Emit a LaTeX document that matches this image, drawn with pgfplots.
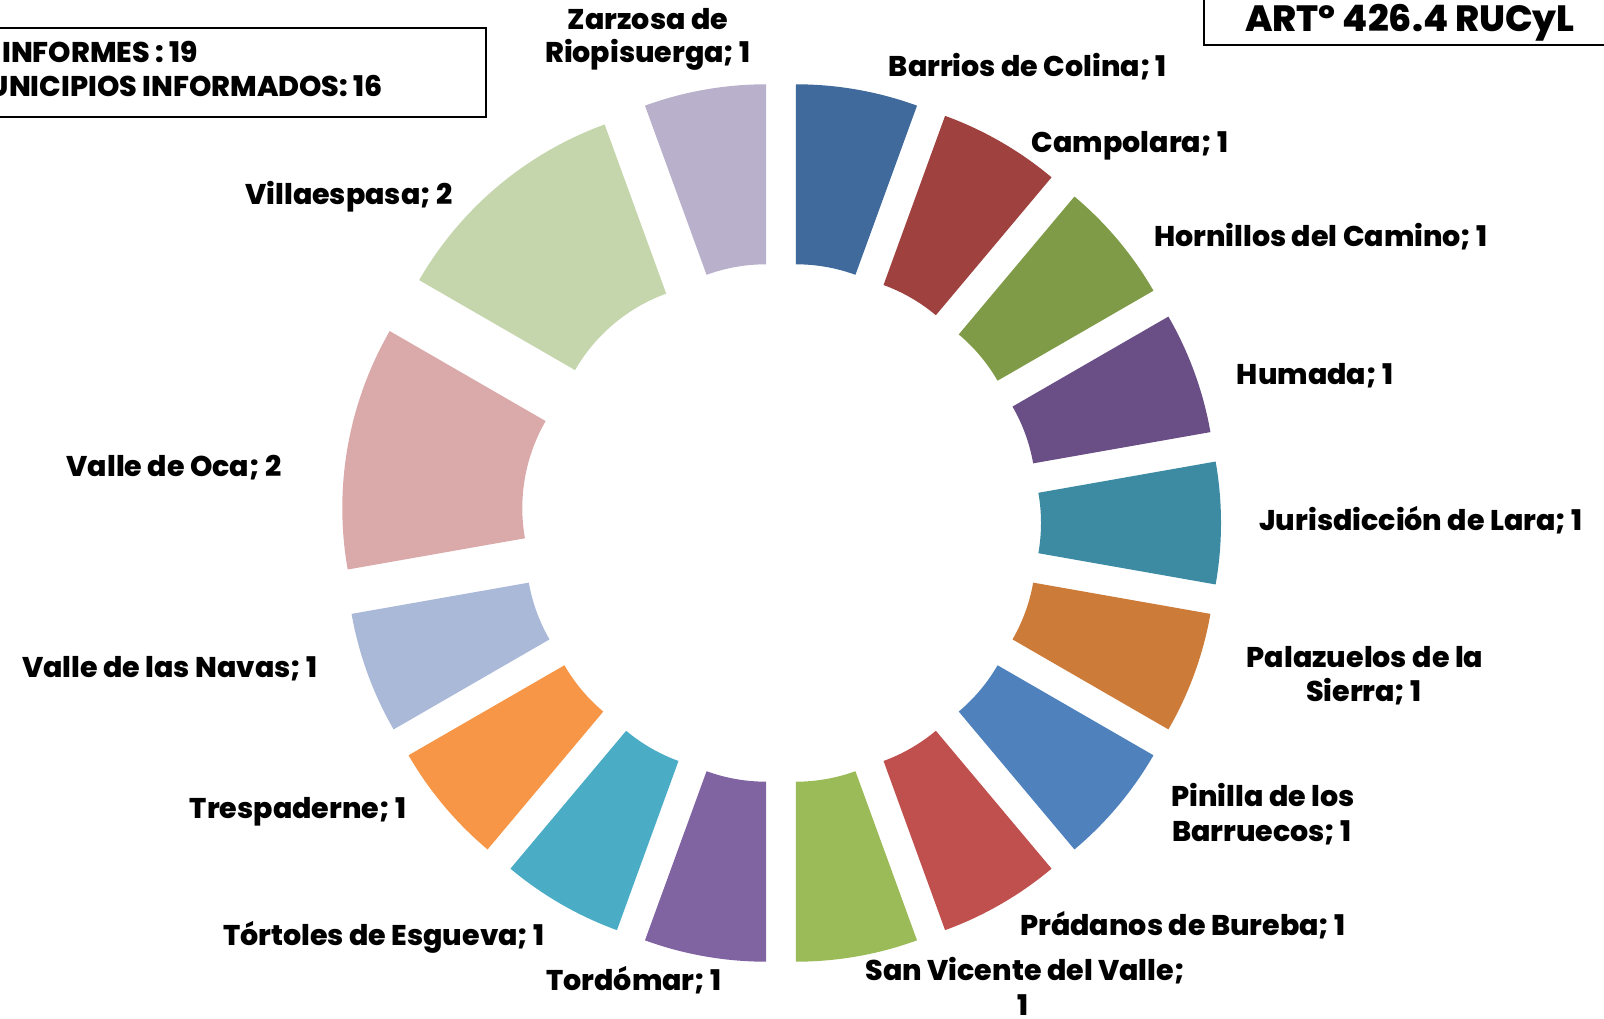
\documentclass[border=0pt]{standalone}
\usepackage{pgfplots}
\pgfplotsset{compat=1.18}
\usepackage{pgfplotstable}
\usepackage{fontspec}
\setmainfont{Poppins}[BoldFont={Poppins ExtraBold}]

% colores de los sectores (orden horario desde arriba)
\definecolor{c1}{HTML}{3F6A9B}
\definecolor{c2}{HTML}{9E413F}
\definecolor{c3}{HTML}{7F9B48}
\definecolor{c4}{HTML}{694F86}
\definecolor{c5}{HTML}{3C8BA3}
\definecolor{c6}{HTML}{CC7B38}
\definecolor{c7}{HTML}{4F81BD}
\definecolor{c8}{HTML}{C0504D}
\definecolor{c9}{HTML}{9BBB59}
\definecolor{c10}{HTML}{8064A2}
\definecolor{c11}{HTML}{4BACC6}
\definecolor{c12}{HTML}{F79646}
\definecolor{c13}{HTML}{AAB9D8}
\definecolor{c14}{HTML}{DAA9A9}
\definecolor{c15}{HTML}{C6D6AC}
\definecolor{c16}{HTML}{B9B0CB}

\pgfplotstableread[col sep=comma]{
municipio,informes
Barrios de Colina,1
Campolara,1
Hornillos del Camino,1
Humada,1
Jurisdicción de Lara,1
Palazuelos de la Sierra,1
Pinilla de los Barruecos,1
Prádanos de Bureba,1
San Vicente del Valle,1
Tordómar,1
Tórtoles de Esgueva,1
Trespaderne,1
Valle de las Navas,1
Valle de Oca,2
Villaespasa,2
Zarzosa de Riopisuerga,1
}\informes

\newcommand\lab{\fontsize{28.5}{33}\selectfont\bfseries}

\begin{document}
\begin{tikzpicture}
% suma total
\def\total{0}
\pgfplotsforeachungrouped \i in {0,...,15}{%
  \pgfplotstablegetelem{\i}{informes}\of\informes
  \pgfmathsetmacro\total{\total+\pgfplotsretval}%
}
\begin{axis}[
    scale only axis,
    width=1604pt, height=1018pt,
    xmin=0, xmax=1604, ymin=0, ymax=1018,
    enlargelimits=false,
    hide axis,
    clip=false,
]
\coordinate (ll) at (axis cs:0,0);
\coordinate (ur) at (axis cs:1604,1018);

% --- anillo con sectores separados ---
\def\acc{0}
\pgfplotsforeachungrouped \i in {0,...,15}{%
  \pgfplotstablegetelem{\i}{informes}\of\informes
  \let\v\pgfplotsretval
  \pgfmathsetmacro\aA{90-360*\acc/\total}%
  \pgfmathsetmacro\aB{90-360*(\acc+\v)/\total}%
  \pgfmathsetmacro\aM{(\aA+\aB)/2}%
  \pgfmathsetmacro\ox{781+86*cos(\aM)}%
  \pgfmathsetmacro\oy{495+86*sin(\aM)}%
  \pgfmathsetmacro\px{\ox+354*cos(\aA)}%
  \pgfmathsetmacro\py{\oy+354*sin(\aA)}%
  \pgfmathsetmacro\qx{\ox+174*cos(\aB)}%
  \pgfmathsetmacro\qy{\oy+174*sin(\aB)}%
  \pgfmathtruncatemacro\k{\i+1}%
  \edef\sector{\noexpand\fill[c\k] (axis cs:\px,\py) arc[start angle=\aA, end angle=\aB, radius=354pt]
     -- (axis cs:\qx,\qy) arc[start angle=\aB, end angle=\aA, radius=174pt] -- cycle;}%
  \sector
  \pgfmathsetmacro\acc{\acc+\v}%
}

% --- etiquetas ---
\begin{scope}[every node/.style={anchor=base, inner sep=0pt, font=\lab}]
\node at (axis cs:648,988) {Zarzosa de};
\node at (axis cs:648,955) {Riopisuerga; 1};
\node at (axis cs:1028,941) {Barrios de Colina; 1};
\node at (axis cs:1130,865) {Campolara; 1};
\node at (axis cs:1321,771) {Hornillos del Camino; 1};
\node at (axis cs:1315,633) {Humada; 1};
\node at (axis cs:1421,487) {Jurisdicción de Lara; 1};
\node at (axis cs:1365,350) {Palazuelos de la};
\node at (axis cs:1364,316) {Sierra; 1};
\node at (axis cs:1263,211) {Pinilla de los};
\node at (axis cs:1262,176) {Barruecos; 1};
\node at (axis cs:1183,83) {Prádanos de Bureba; 1};
\node at (axis cs:1025,38) {San Vicente del Valle;};
\node at (axis cs:1023,3) {1};
\node at (axis cs:634,28) {Tordómar; 1};
\node at (axis cs:384,73) {Tórtoles de Esgueva; 1};
\node at (axis cs:298,199) {Trespaderne; 1};
\node at (axis cs:170,340) {Valle de las Navas; 1};
\node at (axis cs:174,541) {Valle de Oca; 2};
\node at (axis cs:349,813) {Villaespasa; 2};
\end{scope}

% --- cuadros de texto ---
\draw[line width=2pt] (axis cs:-30,990) rectangle (axis cs:486,901);
\node[anchor=base east, inner sep=0pt, font=\lab] at (axis cs:198,955) {Nº INFORMES : 19};
\node[anchor=base east, inner sep=0pt, font=\lab] at (axis cs:383,921) {MUNICIPIOS INFORMADOS: 16};

\draw[line width=2pt] (axis cs:1204,1060) rectangle (axis cs:1650,973);
\node[anchor=base, inner sep=0pt, font=\fontsize{36.5}{40}\selectfont\bfseries] at (axis cs:1410,986) {ARTº 426.4 RUCyL};
\end{axis}
\pgfresetboundingbox
\path[use as bounding box] (ll) rectangle (ur);
\end{tikzpicture}
\end{document}
